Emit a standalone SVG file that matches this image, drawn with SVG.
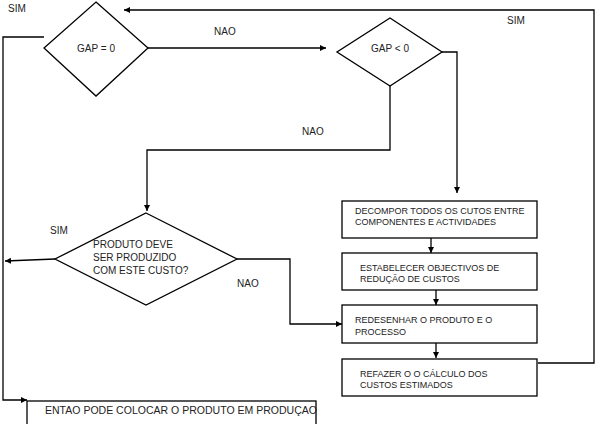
<svg xmlns="http://www.w3.org/2000/svg" width="599" height="424" viewBox="0 0 599 424">
<style>
.s{fill:none;stroke:#000;stroke-width:1.3}
.n{fill:#fff;stroke:#000;stroke-width:1.3}
text{font-family:"Liberation Sans",Arial,sans-serif;fill:#222}
.l{font-size:10px}
.b{font-size:9px}
</style>
<defs>
<marker id="a" viewBox="0 0 10 10" refX="10" refY="5" markerWidth="6" markerHeight="6" markerUnits="userSpaceOnUse" orient="auto">
<path d="M0,0L10,5L0,10z" fill="#000"/>
</marker>
</defs>
<rect width="599" height="424" fill="#fff"/>
<g id="connectors">
<path class="s" d="M44,37H3V400H27" marker-end="url(#a)"/>
<path class="s" d="M148,48H326" marker-end="url(#a)"/>
<path class="s" d="M442,52H457V193" marker-end="url(#a)"/>
<path class="s" d="M390,86V150H147V211" marker-end="url(#a)"/>
<path class="s" d="M55,259L5,261" marker-end="url(#a)"/>
<path class="s" d="M237,259H290V324H342" marker-end="url(#a)"/>
<path class="s" d="M431,238V253" marker-end="url(#a)"/>
<path class="s" d="M436,290V305" marker-end="url(#a)"/>
<path class="s" d="M436,343V358" marker-end="url(#a)"/>
<path class="s" d="M538,363H594V10H124" marker-end="url(#a)"/>
</g>
<g id="labels">
<text class="l" x="8" y="12">SIM</text>
<text class="l" x="214" y="35">NAO</text>
<text class="l" x="507" y="24">SIM</text>
<text class="l" x="302" y="135">NAO</text>
<text class="l" x="50" y="234">SIM</text>
<text class="l" x="237" y="287">NAO</text>
</g>
<g id="gap0">
<path class="n" d="M96,2L148,48L96,96L44,48Z"/>
<text class="l" x="96" y="52" text-anchor="middle">GAP = 0</text>
</g>
<g id="gapneg">
<path class="n" d="M390,18L442,52L390,86L337,52Z"/>
<text class="l" x="390" y="52" text-anchor="middle">GAP &lt; 0</text>
</g>
<g id="produto">
<path class="n" d="M146,213L237,259L146,305L55,259Z"/>
<text class="l" x="93" y="248">PRODUTO DEVE</text>
<text class="l" x="93" y="261">SER PRODUZIDO</text>
<text class="l" x="93" y="274">COM ESTE CUSTO?</text>
</g>
<g id="decompor">
<rect class="n" x="342" y="201" width="195" height="37"/>
<text class="b" x="355" y="214">DECOMPOR TODOS OS CUTOS ENTRE</text>
<text class="b" x="355" y="225">COMPONENTES E ACTIVIDADES</text>
</g>
<g id="estabelecer">
<rect class="n" x="342" y="253" width="195" height="37"/>
<text class="b" x="360" y="271">ESTABELECER OBJECTIVOS DE</text>
<text class="b" x="360" y="282">REDUÇÃO DE  CUSTOS</text>
</g>
<g id="redesenhar">
<rect class="n" x="342" y="305" width="195" height="38"/>
<text class="b" x="355" y="323">REDESENHAR O PRODUTO E O</text>
<text class="b" x="355" y="335">PROCESSO</text>
</g>
<g id="refazer">
<rect class="n" x="342" y="359" width="195" height="37"/>
<text class="b" x="360" y="377">REFAZER O O CÁLCULO DOS</text>
<text class="b" x="360" y="388">CUSTOS ESTIMADOS</text>
</g>
<g id="entao">
<rect class="n" x="27" y="401" width="289" height="30"/>
<text x="45" y="414" font-size="10" textLength="272" lengthAdjust="spacingAndGlyphs">ENTAO PODE COLOCAR O PRODUTO EM PRODUÇAO</text>
</g>
</svg>
